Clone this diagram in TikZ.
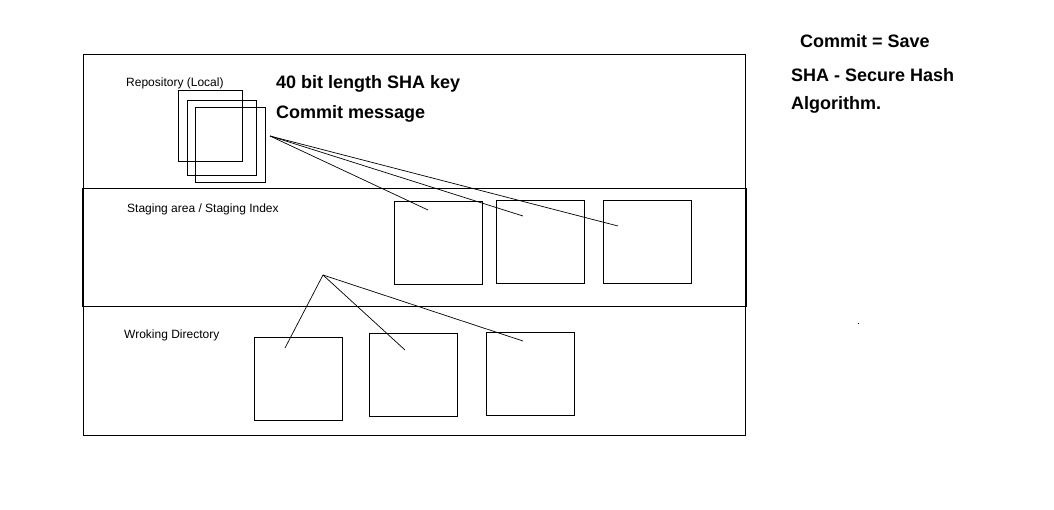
\documentclass[tikz,border=0pt]{standalone}
\usepackage{fontspec}
\setmainfont{Liberation Sans}
\begin{document}
\begin{tikzpicture}[x=1pt,y=-1pt,
  box/.style={draw=black,line width=0.8pt},
  ln/.style={draw=black,line width=0.7pt},
  small/.style={anchor=west,inner sep=0pt,font=\fontsize{12}{14}\selectfont},
  big/.style={anchor=west,inner sep=0pt,font=\fontsize{18}{21}\selectfont\bfseries}]
\useasboundingbox (0,0) rectangle (1054,509);
% outer and staging band
\draw[box] (83,54) rectangle (745,435);
\draw[box] (82,188) rectangle (746,306);
% repository stacked squares
\draw[box] (178,90) rectangle (242,161);
\draw[box] (187,100) rectangle (256,175);
\draw[box] (195,107) rectangle (265,182);
% staging boxes
\draw[box] (394,201) rectangle (482,284);
\draw[box] (496,200) rectangle (584,283);
\draw[box] (603,200) rectangle (691,283);
% working boxes
\draw[box] (254,337) rectangle (342,420);
\draw[box] (369,333) rectangle (457,416);
\draw[box] (486,332) rectangle (574,415);
% connector points
\coordinate (r) at (270,136);
\coordinate (s1) at (428,210);
\coordinate (s2) at (523,216);
\coordinate (s3) at (618,226);
\coordinate (w) at (323,275);
\coordinate (w1) at (285,348);
\coordinate (w2) at (405,350);
\coordinate (w3) at (523,341);
\draw[ln] (r) -- (s1);
\draw[ln] (r) -- (s2);
\draw[ln] (r) -- (s3);
\draw[ln] (w) -- (w1);
\draw[ln] (w) -- (w2);
\draw[ln] (w) -- (w3);
% labels
\node[small] (lrepo) at (126,83) {Repository (Local)};
\node[small] (lstage) at (127,209) {Staging area / Staging Index};
\node[small] (lwork) at (124,335) {Wroking Directory};
\node[big] (sha) at (276,84) {40 bit length SHA key};
\node[big] (msg) at (276,114) {Commit message};
\node[big] (save) at (800,41) {Commit = Save};
\node[big] (sha1) at (791,75) {SHA - Secure Hash};
\node[big] (sha2) at (791,105) {Algorithm.};
\fill[black] (857.5,322.5) rectangle (858.5,323.5);
\end{tikzpicture}
\end{document}
